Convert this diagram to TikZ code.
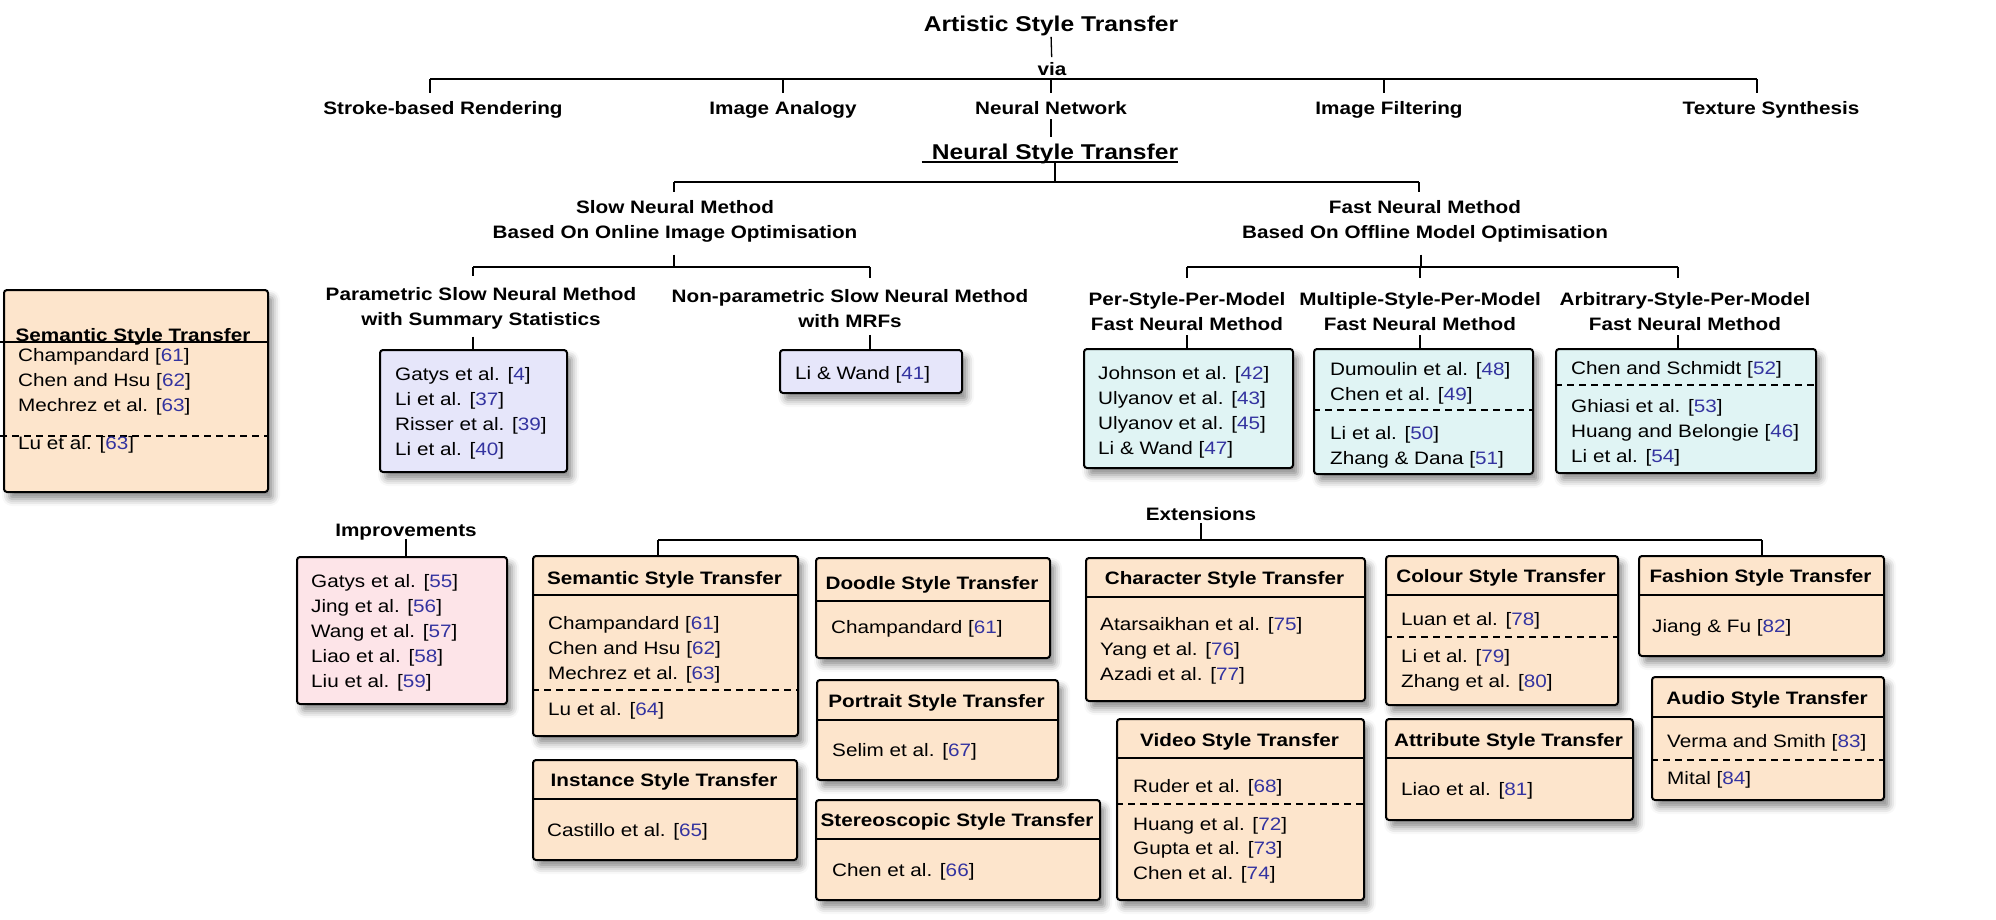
\documentclass[tikz,border=0pt]{standalone}
\usepackage{fontspec}
\setmainfont{Liberation Sans}[FakeStretch=1.15]
\usetikzlibrary{shadows.blur}
\definecolor{lav}{HTML}{E6E6FA}
\definecolor{cyanbox}{HTML}{E0F4F4}
\definecolor{pinkbox}{HTML}{FDE4E8}
\definecolor{peach}{HTML}{FDE5CC}
\definecolor{refblue}{HTML}{3333A0}
\newcommand\fLbl{\bfseries\fontsize{18}{25}\selectfont}
\newcommand\fItm{\fontsize{18}{25}\selectfont}
\newcommand\fTtl{\bfseries\fontsize{21.4}{26}\selectfont}
\newcommand\rfc[1]{[\textcolor{refblue}{#1}]}
\tikzset{
  conn/.style={line width=2pt},
  tk/.style={line width=1.3pt},
  box/.style={draw, line width=2pt, rounded corners=3pt, anchor=north west, inner sep=0pt,
    blur shadow={shadow xshift=5pt, shadow yshift=-7pt, shadow blur radius=7pt, shadow opacity=45}},
  ttl/.style={font=\fTtl, inner sep=0pt, text height=0.75em, text depth=0.2em, yshift=-5pt},
  lbl/.style={font=\fLbl, inner sep=0pt, text height=0.75em, text depth=0.2em, yshift=-5pt},
  lbltwo/.style={font=\fLbl, inner sep=0pt, align=center, yshift=-1pt},
  hdr/.style={font=\fLbl, inner sep=0pt, text height=0.75em, text depth=0.2em, yshift=-5pt},
  itm/.style={font=\fItm, inner sep=0pt, anchor=west, text height=0.75em, text depth=0.2em, yshift=-5pt},
  sep/.style={line width=2pt},
  dsep/.style={line width=2pt, dash pattern=on 7pt off 5pt},
}
\begin{document}
\begin{tikzpicture}[x=1pt,y=-1pt]
\useasboundingbox (0,0) rectangle (1996,919);

% ---------- top level ----------
\node[ttl] (ast) at (1051,24) {Artistic Style Transfer};
\node[lbl] (via) at (1052,68) {via};
\node[lbl] (sbr) at (443,107) {Stroke-based Rendering};
\node[lbl] (ia) at (783,107) {Image Analogy};
\node[lbl] (nn) at (1051,107) {Neural Network};
\node[lbl] (ifl) at (1389,107) {Image Filtering};
\node[lbl] (ts) at (1771,107) {Texture Synthesis};
\coordinate (b1l) at (430,79);
\coordinate (b1r) at (1757,79);
\draw[tk, shorten <=3pt, shorten >=11pt] (ast.south) -- (via.north);
\draw[conn] (b1l) -- (b1r);
\draw[tk, shorten >=14pt] (b1l) -- (b1l |- sbr.north);
\draw[tk, shorten >=14pt] (ia.north |- b1l) -- (ia.north);
\draw[tk, shorten >=14pt] (nn.north |- b1l) -- (nn.north);
\draw[tk, shorten >=14pt] (b1l -| 1384,0) -- (ifl.north -| 1384,0);
\draw[tk, shorten >=14pt] (b1r) -- (b1r |- ts.north);

% ---------- neural style transfer ----------
\node[ttl] (nst) at (1055,152) {Neural Style Transfer};
\draw[tk, shorten <=2.5pt, shorten >=15pt] (nn.south) -- (nn.south |- nst.north);
\draw[tk] ([xshift=-10pt]nst.south west) -- (nst.south east);
\coordinate (b2l) at (674,182);
\coordinate (b2r) at (1419,182);
\draw[tk] (nst.south) -- (nst.south |- b2l);
\draw[conn] (b2l) -- (b2r);
\node[lbltwo] (slow) at (675,220.5) {Slow Neural Method\\Based On Online Image Optimisation};
\node[lbltwo] (fast) at (1425,220.5) {Fast Neural Method\\Based On Offline Model Optimisation};
\draw[tk, shorten >=8pt] (b2l) -- (b2l |- slow.north);
\draw[tk, shorten >=8pt] (b2r) -- (b2r |- fast.north);

% ---------- slow branch ----------
\coordinate (b3l) at (473,267);
\coordinate (b3r) at (870,267);
\coordinate (b3m) at (674,267);
\draw[tk, shorten <=12pt] (b3m |- slow.south) -- (b3m);
\draw[conn] (b3l) -- (b3r);
\node[lbltwo] (param) at (481,307.5) {Parametric Slow Neural Method\\with Summary Statistics};
\node[lbltwo] (nonparam) at (850,307.5) {Non-parametric Slow Neural Method\\with MRFs};
\draw[tk, shorten >=11pt] (b3l) -- (b3l |- param.north);
\draw[tk, shorten >=11pt] (b3r) -- (b3r |- nonparam.north);

\node[box, fill=lav, minimum width=187, minimum height=122] (gatys) at (379,349) {};
\node[itm] (g1) at (395,373) {Gatys et al. \rfc{4}};
\node[itm] (g2) at (395,398) {Li et al. \rfc{37}};
\node[itm] (g3) at (395,423) {Risser et al. \rfc{39}};
\node[itm] (g4) at (395,448) {Li et al. \rfc{40}};
\draw[tk, shorten <=7pt] (b3l |- param.south) -- (b3l |- gatys.north);

\node[box, fill=lav, minimum width=182, minimum height=43] (liwand) at (779,349) {};
\node[itm] (lw1) at (795,372) {Li \& Wand \rfc{41}};
\draw[tk, shorten <=7pt] (b3r |- nonparam.south) -- (b3r |- liwand.north);

% ---------- fast branch ----------
\coordinate (b4l) at (1187,267);
\coordinate (b4r) at (1678,267);
\coordinate (b4m) at (1421,267);
\draw[tk, shorten <=12pt] (b4m |- fast.south) -- (b4m);
\draw[conn] (b4l) -- (b4r);
\node[lbltwo] (per) at (1187,311) {Per-Style-Per-Model\\Fast Neural Method};
\node[lbltwo] (mult) at (1420,311) {Multiple-Style-Per-Model\\Fast Neural Method};
\node[lbltwo] (arb) at (1685,311) {Arbitrary-Style-Per-Model\\Fast Neural Method};
\draw[tk, shorten >=15pt] (b4l) -- (b4l |- per.north);
\draw[tk, shorten >=15pt] (mult.north |- b4l) -- (mult.north);
\draw[tk, shorten >=15pt] (b4r) -- (b4r |- arb.north);

\node[box, fill=cyanbox, minimum width=209, minimum height=119] (johnson) at (1083,348) {};
\node[itm] (j1) at (1098,372) {Johnson et al. \rfc{42}};
\node[itm] (j2) at (1098,397) {Ulyanov et al. \rfc{43}};
\node[itm] (j3) at (1098,422) {Ulyanov et al. \rfc{45}};
\node[itm] (j4) at (1098,447) {Li \& Wand \rfc{47}};
\draw[tk, shorten <=4pt] (b4l |- per.south) -- (b4l |- johnson.north);

\node[box, fill=cyanbox, minimum width=219, minimum height=125] (dumoulin) at (1313,348) {};
\node[itm] (d1) at (1330,368) {Dumoulin et al. \rfc{48}};
\node[itm] (d2) at (1330,393) {Chen et al. \rfc{49}};
\draw[dsep] (dumoulin.west |- 0,410) -- (dumoulin.east |- 0,410);
\node[itm] (d3) at (1330,432) {Li et al. \rfc{50}};
\node[itm] (d4) at (1330,457) {Zhang \& Dana \rfc{51}};
\draw[tk, shorten <=4pt] (mult.south) -- (mult.south |- dumoulin.north);

\node[box, fill=cyanbox, minimum width=260, minimum height=124] (chenfs) at (1555,348) {};
\node[itm] (c1) at (1571,367) {Chen and Schmidt \rfc{52}};
\draw[dsep] (chenfs.west |- 0,385) -- (chenfs.east |- 0,385);
\node[itm] (c2) at (1571,405) {Ghiasi et al. \rfc{53}};
\node[itm] (c3) at (1571,430) {Huang and Belongie \rfc{46}};
\node[itm] (c4) at (1571,455) {Li et al. \rfc{54}};
\draw[tk, shorten <=4pt] (b4r |- arb.south) -- (b4r |- chenfs.north);

% ---------- stray left box ----------
\node[box, fill=peach, minimum width=264, minimum height=202] (leftbox) at (3,289) {};
\node[hdr] (lefth) at (133,334) {Semantic Style Transfer};
\draw[sep] (0,342) -- (leftbox.east |- 0,342);
\node[itm] (l1) at (18,354) {Champandard \rfc{61}};
\node[itm] (l2) at (18,379) {Chen and Hsu \rfc{62}};
\node[itm] (l3) at (18,404) {Mechrez et al. \rfc{63}};
\draw[dsep] (0,436) -- (leftbox.east |- 0,436);
\node[itm] (l4) at (18,442) {Lu et al. \rfc{63}};

% ---------- improvements ----------
\node[lbl] (impr) at (406,529) {Improvements};
\node[box, fill=pinkbox, minimum width=210, minimum height=147] (imprbox) at (296,556) {};
\draw[tk] (impr.south) -- (impr.south |- imprbox.north);
\node[itm] (i1) at (311,580) {Gatys et al. \rfc{55}};
\node[itm] (i2) at (311,605) {Jing et al. \rfc{56}};
\node[itm] (i3) at (311,630) {Wang et al. \rfc{57}};
\node[itm] (i4) at (311,655) {Liao et al. \rfc{58}};
\node[itm] (i5) at (311,680) {Liu et al. \rfc{59}};

% ---------- extensions ----------
\node[lbl] (ext) at (1201,513) {Extensions};
\coordinate (b5l) at (658,540);
\coordinate (b5r) at (1762,540);
\draw[tk] (ext.south) -- (ext.south |- b5l);
\draw[conn] (b5l) -- (b5r);

% semantic
\node[box, fill=peach, minimum width=265, minimum height=180] (sem) at (532,555) {};
\node[hdr] (semh) at (664.5,577) {Semantic Style Transfer};
\draw[sep] (sem.west |- 0,595) -- (sem.east |- 0,595);
\node[itm] (s1) at (548,622) {Champandard \rfc{61}};
\node[itm] (s2) at (548,647) {Chen and Hsu \rfc{62}};
\node[itm] (s3) at (548,672) {Mechrez et al. \rfc{63}};
\draw[dsep] (sem.west |- 0,690) -- (sem.east |- 0,690);
\node[itm] (s4) at (548,708) {Lu et al. \rfc{64}};
\draw[tk] (b5l) -- (b5l |- sem.north);

% instance
\node[box, fill=peach, minimum width=264, minimum height=100] (inst) at (532,759) {};
\node[hdr] (insth) at (664,779) {Instance Style Transfer};
\draw[sep] (inst.west |- 0,799) -- (inst.east |- 0,799);
\node[itm] (in1) at (547,829) {Castillo et al. \rfc{65}};

% doodle
\node[box, fill=peach, minimum width=234, minimum height=100] (doodle) at (815,557) {};
\node[hdr] (doodh) at (932,582) {Doodle Style Transfer};
\draw[sep] (doodle.west |- 0,601) -- (doodle.east |- 0,601);
\node[itm] (do1) at (831,626) {Champandard \rfc{61}};

% portrait
\node[box, fill=peach, minimum width=241, minimum height=100] (portrait) at (816,679) {};
\node[hdr] (porth) at (936.5,700) {Portrait Style Transfer};
\draw[sep] (portrait.west |- 0,720) -- (portrait.east |- 0,720);
\node[itm] (po1) at (832,749) {Selim et al. \rfc{67}};

% stereoscopic
\node[box, fill=peach, minimum width=284, minimum height=100] (stereo) at (815,799) {};
\node[hdr] (sterh) at (957,819) {Stereoscopic Style Transfer};
\draw[sep] (stereo.west |- 0,839) -- (stereo.east |- 0,839);
\node[itm] (st1) at (832,869) {Chen et al. \rfc{66}};

% character
\node[box, fill=peach, minimum width=279, minimum height=143] (charb) at (1085,557) {};
\node[hdr] (charh) at (1224.5,577) {Character Style Transfer};
\draw[sep] (charb.west |- 0,597) -- (charb.east |- 0,597);
\node[itm] (ch1) at (1100,623) {Atarsaikhan et al. \rfc{75}};
\node[itm] (ch2) at (1100,648) {Yang et al. \rfc{76}};
\node[itm] (ch3) at (1100,673) {Azadi et al. \rfc{77}};

% video
\node[box, fill=peach, minimum width=247, minimum height=181] (video) at (1116,718) {};
\node[hdr] (vidh) at (1239.5,739) {Video Style Transfer};
\draw[sep] (video.west |- 0,758) -- (video.east |- 0,758);
\node[itm] (v1) at (1133,785) {Ruder et al. \rfc{68}};
\draw[dsep] (video.west |- 0,804) -- (video.east |- 0,804);
\node[itm] (v2) at (1133,823) {Huang et al. \rfc{72}};
\node[itm] (v3) at (1133,847) {Gupta et al. \rfc{73}};
\node[itm] (v4) at (1133,872) {Chen et al. \rfc{74}};

% colour
\node[box, fill=peach, minimum width=232, minimum height=149] (colour) at (1385,555) {};
\node[hdr] (colh) at (1501,575) {Colour Style Transfer};
\draw[sep] (colour.west |- 0,595) -- (colour.east |- 0,595);
\node[itm] (co1) at (1401,618) {Luan et al. \rfc{78}};
\draw[dsep] (colour.west |- 0,637) -- (colour.east |- 0,637);
\node[itm] (co2) at (1401,655) {Li et al. \rfc{79}};
\node[itm] (co3) at (1401,680) {Zhang et al. \rfc{80}};

% attribute
\node[box, fill=peach, minimum width=247, minimum height=101] (attr) at (1385,718) {};
\node[hdr] (attrh) at (1508.5,739) {Attribute Style Transfer};
\draw[sep] (attr.west |- 0,758) -- (attr.east |- 0,758);
\node[itm] (at1) at (1401,788) {Liao et al. \rfc{81}};

% fashion
\node[box, fill=peach, minimum width=245, minimum height=100] (fashion) at (1638,555) {};
\node[hdr] (fash) at (1760.5,575) {Fashion Style Transfer};
\draw[sep] (fashion.west |- 0,595) -- (fashion.east |- 0,595);
\node[itm] (fa1) at (1652,625) {Jiang \& Fu \rfc{82}};
\draw[tk] (b5r) -- (b5r |- fashion.north);

% audio
\node[box, fill=peach, minimum width=232, minimum height=123] (audio) at (1651,676) {};
\node[hdr] (audh) at (1767,697) {Audio Style Transfer};
\draw[sep] (audio.west |- 0,717) -- (audio.east |- 0,717);
\node[itm] (au1) at (1667,740) {Verma and Smith \rfc{83}};
\draw[dsep] (audio.west |- 0,760) -- (audio.east |- 0,760);
\node[itm] (au2) at (1667,777) {Mital \rfc{84}};
\end{tikzpicture}
\end{document}
